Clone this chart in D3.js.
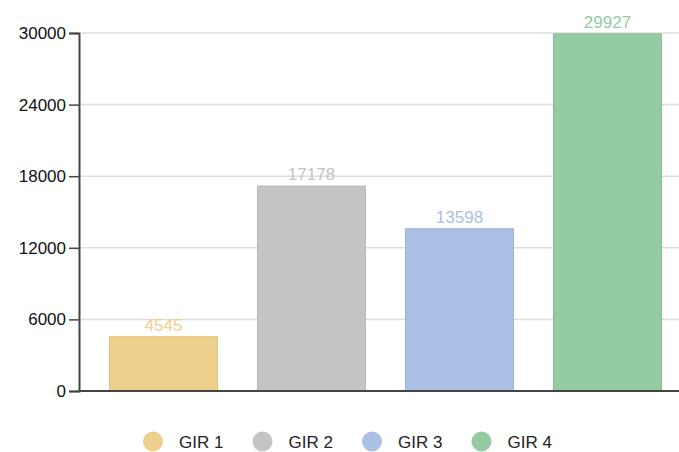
<!DOCTYPE html>
<html><head><meta charset="utf-8">
<script src="https://cdn.jsdelivr.net/npm/d3@7"></script>
<style>body{margin:0;background:#fff;} text{font-family:Arial,"Liberation Sans",sans-serif;}</style>
</head><body>
<svg id="c" width="679" height="452"></svg>
<script>
const categories = ["GIR 1", "GIR 2", "GIR 3", "GIR 4"];
const values = [4545, 17178, 13598, 29927];
const colors = ["#ecd08b", "#c4c4c4", "#abc0e4", "#94cba2"];
const strokes = ["#e2c47c", "#b8b8b8", "#9db2d8", "#86bf95"];
const yTicks = [0, 6000, 12000, 18000, 24000, 30000];

const svg = d3.select("#c");
const x = d3.scaleBand().domain(categories).range([89.5, 681.5]).paddingInner(0.27).paddingOuter(0.135);
const y = d3.scaleLinear().domain([0, 30000]).range([391, 33]);
const xLeft = 79, xRight = 679;

// gridlines
svg.append("g").selectAll("line").data(yTicks.filter(d => d > 0)).join("line")
  .attr("x1", xLeft + 2).attr("x2", xRight).attr("y1", d => y(d)).attr("y2", d => y(d))
  .attr("stroke", "#dddddd").attr("stroke-width", 1.5);

// bars
svg.append("g").selectAll("rect").data(values).join("rect")
  .attr("x", (d, i) => x(categories[i]))
  .attr("width", x.bandwidth())
  .attr("y", d => y(d))
  .attr("height", d => y(0) - y(d))
  .attr("fill", (d, i) => colors[i])
  .attr("stroke", (d, i) => strokes[i]).attr("stroke-width", 1);

// value labels
svg.append("g").selectAll("text").data(values).join("text")
  .attr("x", (d, i) => x(categories[i]) + x.bandwidth() / 2)
  .attr("y", d => y(d) - 6)
  .attr("text-anchor", "middle")
  .attr("font-size", 17)
  .attr("fill", (d, i) => colors[i])
  .text(d => d);

// y axis
const yAxis = d3.axisLeft(y).tickValues(yTicks).tickSize(10).tickPadding(3).tickFormat(d3.format("d"));
const gy = svg.append("g").attr("transform", `translate(${xLeft},0)`).call(yAxis);
gy.attr("font-size", 17).attr("font-family", "Arial, 'Liberation Sans', sans-serif");
gy.select(".domain").attr("stroke", "#444").attr("stroke-width", 2);
gy.selectAll(".tick line").attr("stroke", "#444").attr("stroke-width", 1.5);
gy.selectAll(".tick text").attr("font-size", 17).attr("fill", "#111");

// x baseline
svg.append("line").attr("x1", xLeft).attr("x2", xRight).attr("y1", y(0)).attr("y2", y(0))
  .attr("stroke", "#444").attr("stroke-width", 2);

// legend
const legX0 = 153, legStep = 109.5, legY = 441.5;
const lg = svg.append("g").selectAll("g").data(categories).join("g")
  .attr("transform", (d, i) => `translate(${legX0 + i * legStep},${legY})`);
lg.append("circle").attr("r", 10).attr("fill", (d, i) => colors[i]);
lg.append("text").attr("x", 26).attr("y", 6).attr("font-size", 17).attr("fill", "#222").text(d => d);
</script>
</body></html>
